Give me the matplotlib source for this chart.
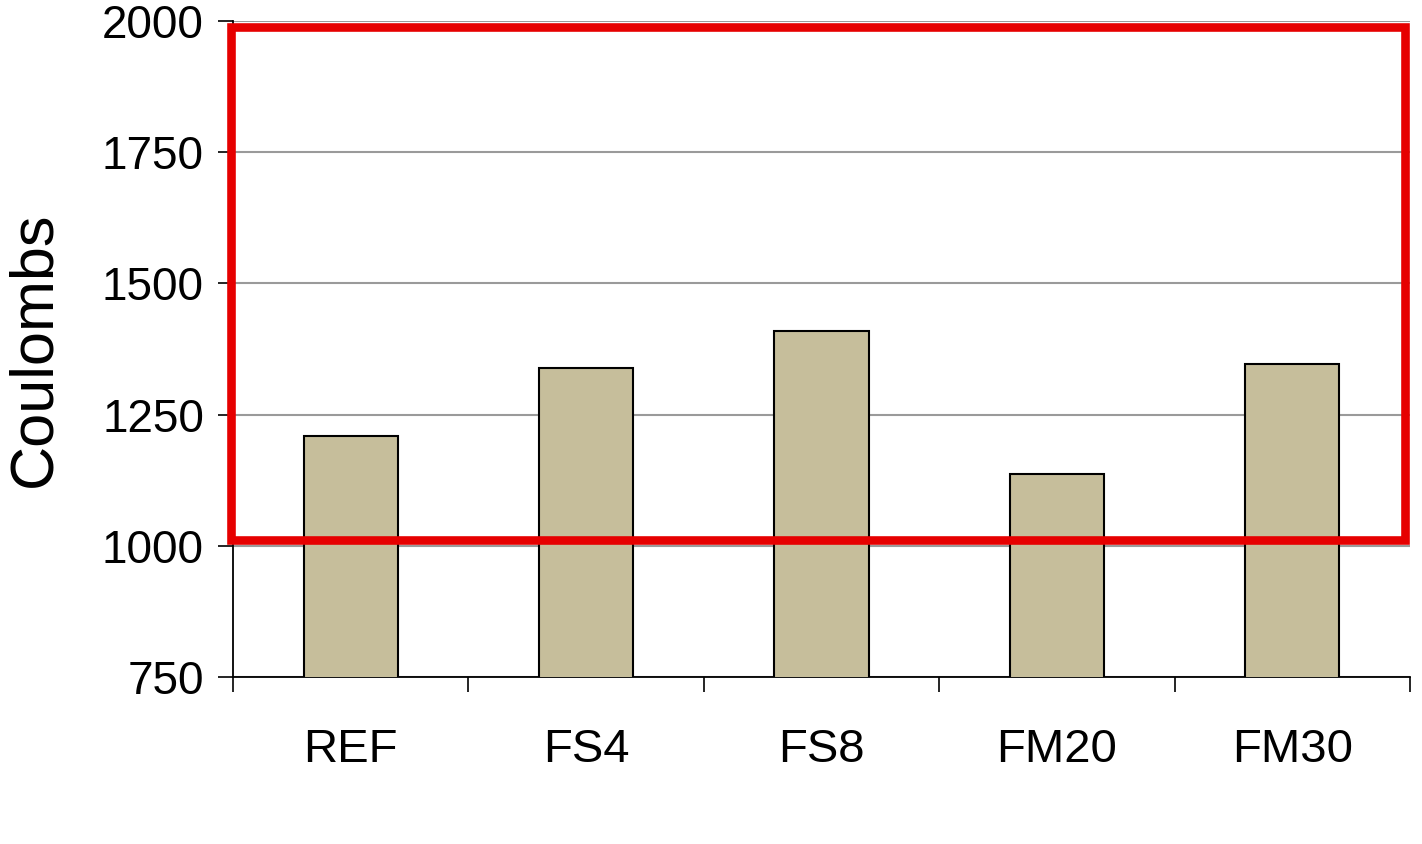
import matplotlib
matplotlib.use("Agg")
import matplotlib.pyplot as plt
from matplotlib.patches import Rectangle
import numpy as np

categories = ["REF", "FS4", "FS8", "FM20", "FM30"]
values = [1210, 1338, 1410, 1136, 1346]
yticks = [750, 1000, 1250, 1500, 1750, 2000]
ylabel = "Coulombs"

plt.rcParams['font.family'] = ['Liberation Sans', 'DejaVu Sans']

fig = plt.figure(figsize=(14.22, 8.44), dpi=100)
ax = fig.add_axes([0.1639, 0.1979, 0.8277, 0.7772])

x = np.arange(len(categories))
ax.bar(x, values, width=0.4, bottom=0, color="#C6BE9B", edgecolor="black",
       linewidth=1.5, zorder=3)

ax.set_xlim(-0.5, len(categories) - 0.5)
ax.set_ylim(750, 2000)
ax.set_yticks(yticks)
ax.set_yticklabels([str(v) for v in yticks], fontsize=33)
ax.set_xticks(x)
ax.set_xticklabels(categories, fontsize=34)
ax.set_xticks(np.arange(len(categories) + 1) - 0.5, minor=True)
ax.tick_params(axis='x', which='major', length=0, pad=37)
ax.tick_params(axis='x', which='minor', length=11, width=1.2, direction='out')
ax.tick_params(axis='y', which='major', length=11, width=1.2, direction='out', pad=10)

ax.yaxis.grid(True, color="#9a9a9a", linewidth=1.5, zorder=0)
ax.set_axisbelow(True)
for s in ['top', 'right']:
    ax.spines[s].set_visible(False)
for s in ['left', 'bottom']:
    ax.spines[s].set_linewidth(1.3)

ax.set_ylabel(ylabel, fontsize=44, labelpad=28)

rect = Rectangle((-0.508, 1010.6), 4.987, 978.0, fill=False, edgecolor="#E60000",
                 linewidth=6.2, zorder=5, clip_on=False, joinstyle='miter')
ax.add_patch(rect)

fig.savefig("out.png", dpi=100, facecolor="white")
